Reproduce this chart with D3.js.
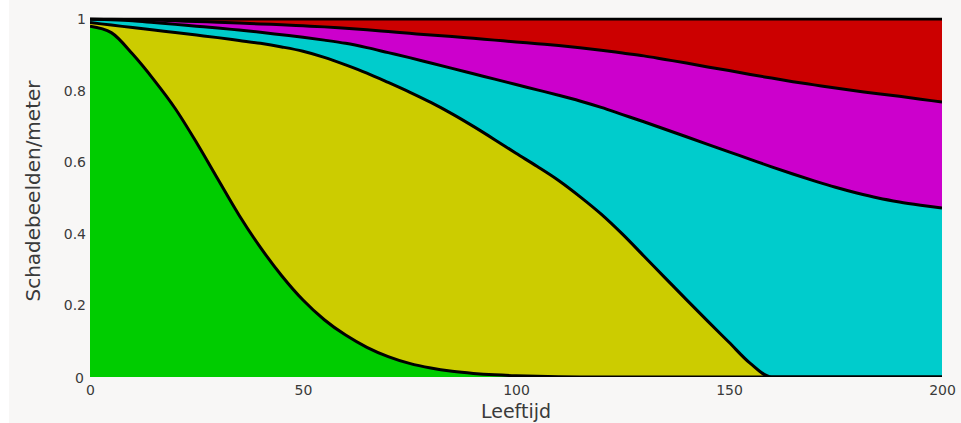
<!DOCTYPE html>
<html>
<head>
<meta charset="utf-8">
<script src="https://cdn.jsdelivr.net/npm/d3@7"></script>
<style>
  html, body { margin: 0; padding: 0; background: #ffffff; }
  svg { display: block; }
  text { font-family: "DejaVu Sans", sans-serif; }
</style>
</head>
<body>
<svg id="chart" width="961" height="423"></svg>
<script>
// ---- data (cumulative upper boundary of each band) ----
const ages = [0,5,10,15,20,25,30,35,40,45,50,55,60,65,70,75,80,85,90,95,100,105,110,115,120,125,130,135,140,145,150,155,160,165,170,175,180,185,190,195,200];

const greenTop   = [0.98,0.962,0.902,0.83,0.75,0.655,0.553,0.452,0.362,0.283,0.215,0.16,0.117,0.083,0.057,0.038,0.025,0.016,0.01,0.006,0.0035,0.002,0.001,0.0003,0,0,0,0,0,0,0,0,0,0,0,0,0,0,0,0,0];
const yellowTop  = [0.99,0.983,0.976,0.969,0.962,0.955,0.948,0.94,0.932,0.922,0.91,0.893,0.872,0.849,0.823,0.796,0.767,0.735,0.70,0.663,0.625,0.588,0.549,0.504,0.455,0.399,0.338,0.277,0.216,0.156,0.097,0.038,0,0,0,0,0,0,0,0,0];
const cyanTop    = [1.0,0.998,0.995,0.99,0.985,0.98,0.975,0.969,0.963,0.956,0.949,0.941,0.932,0.92,0.906,0.892,0.877,0.862,0.847,0.832,0.817,0.802,0.787,0.771,0.753,0.733,0.713,0.692,0.671,0.65,0.629,0.608,0.587,0.567,0.548,0.53,0.514,0.5,0.489,0.48,0.472];
const magentaTop = [1.0,0.999,0.998,0.997,0.995,0.993,0.991,0.989,0.986,0.984,0.981,0.978,0.974,0.97,0.965,0.96,0.955,0.951,0.946,0.941,0.936,0.931,0.926,0.92,0.913,0.905,0.897,0.887,0.877,0.866,0.856,0.845,0.835,0.825,0.816,0.807,0.799,0.791,0.784,0.776,0.768];
const redTop     = ages.map(() => 1.0);

const bands = [
  { name: "groen",   top: greenTop,   color: "#00cc00" },
  { name: "geel",    top: yellowTop,  color: "#cccc00" },
  { name: "cyaan",   top: cyanTop,    color: "#00cccc" },
  { name: "magenta", top: magentaTop, color: "#cc00cc" },
  { name: "rood",    top: redTop,     color: "#cc0000" }
];

const xTicks = [0, 50, 100, 150, 200];
const yTicks = [0, 0.2, 0.4, 0.6, 0.8, 1];
const yTickLabels = ["0", "0.2", "0.4", "0.6", "0.8", "1"];
const xTitle = "Leeftijd";
const yTitle = "Schadebeelden/meter";

// ---- layout ----
const svg = d3.select("#chart");
const W = 961, H = 423;
const pLeft = 90, pRight = 942, pTop = 19, pBottom = 377;

svg.append("rect").attr("x", 9).attr("y", 0).attr("width", W - 9).attr("height", H).attr("fill", "#f8f7f6");

const x = d3.scaleLinear().domain([0, 200]).range([pLeft, pRight]);
const y = d3.scaleLinear().domain([0, 1]).range([pBottom, pTop]);

svg.append("defs").append("clipPath").attr("id", "plotclip")
  .append("rect").attr("x", pLeft).attr("y", pTop - 1.5).attr("width", pRight - pLeft).attr("height", pBottom - pTop + 1.5);

const g = svg.append("g").attr("clip-path", "url(#plotclip)");

const curve = d3.curveMonotoneX;
bands.forEach((b, i) => {
  const lower = i === 0 ? ages.map(() => 0) : bands[i - 1].top;
  const area = d3.area()
    .x((d, j) => x(ages[j]))
    .y0((d, j) => y(lower[j]))
    .y1((d, j) => y(b.top[j]))
    .curve(curve);
  g.append("path").datum(ages).attr("d", area).attr("fill", b.color).attr("stroke", "none");
});

// boundary lines
bands.forEach(b => {
  const line = d3.line().x((d, j) => x(ages[j])).y((d, j) => y(b.top[j])).curve(curve);
  g.append("path").datum(ages).attr("d", line)
    .attr("fill", "none").attr("stroke", "#000").attr("stroke-width", 3).attr("stroke-linejoin", "round");
});

// ---- axes (labels only, no tick marks) ----
const xAxis = svg.append("g").attr("transform", `translate(0,${pBottom})`)
  .call(d3.axisBottom(x).tickValues(xTicks).tickSize(0).tickPadding(8).tickFormat(d3.format("d")));
xAxis.select(".domain").remove();
xAxis.selectAll("text").attr("font-size", 14).attr("fill", "#3a3a3a").attr("font-family", "DejaVu Sans, sans-serif");

const yAxis = svg.append("g").attr("transform", `translate(${pLeft},0)`)
  .call(d3.axisLeft(y).tickValues(yTicks).tickSize(0).tickPadding(4).tickFormat((d, i) => yTickLabels[i]));
yAxis.select(".domain").remove();
yAxis.selectAll("text").attr("font-size", 14).attr("fill", "#3a3a3a").attr("font-family", "DejaVu Sans, sans-serif");
yAxis.selectAll(".tick").filter(d => d === 0).select("text").attr("dx", -2).attr("dy", "0.4em");

svg.append("text").attr("x", (pLeft + pRight) / 2).attr("y", 418)
  .attr("text-anchor", "middle").attr("font-size", 19).attr("fill", "#3a3a3a").text(xTitle);

svg.append("text").attr("transform", `translate(40,191) rotate(-90)`)
  .attr("text-anchor", "middle").attr("font-size", 20).attr("fill", "#3a3a3a").text(yTitle);
</script>
</body>
</html>
